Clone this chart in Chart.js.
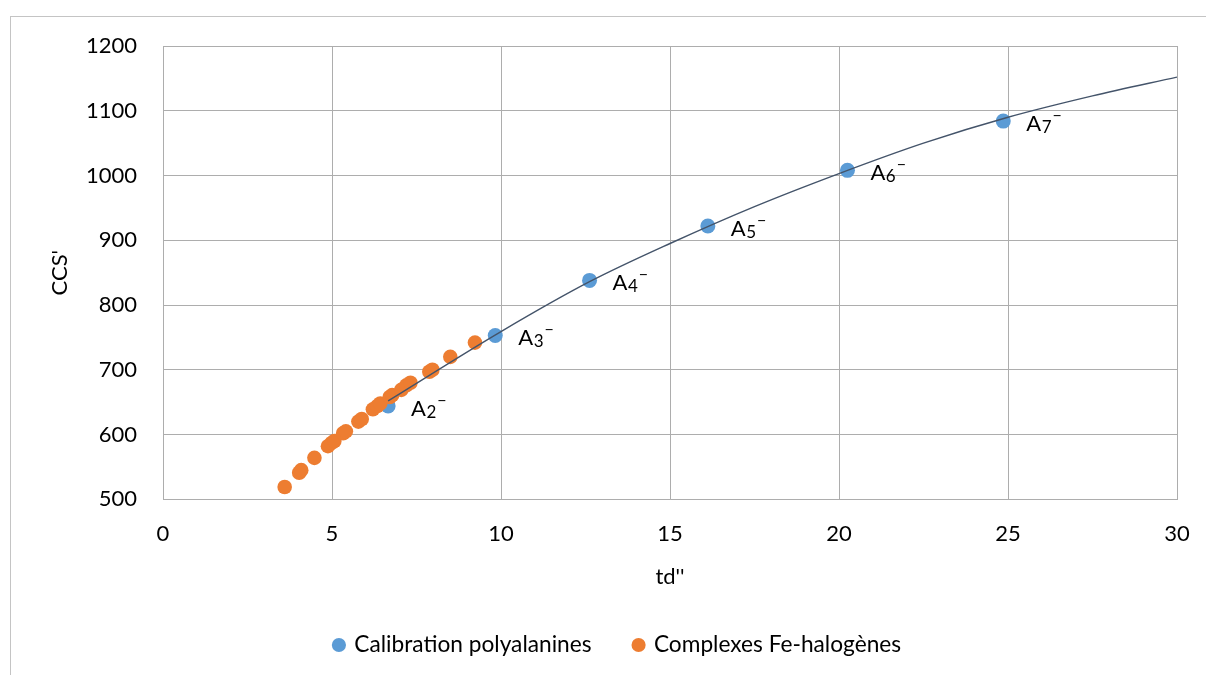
<!DOCTYPE html>
<html>
<head>
<meta charset="utf-8">
<script src="https://cdn.jsdelivr.net/npm/chart.js@4"></script>
<style>
  html, body { margin: 0; padding: 0; background: #ffffff; }
  canvas { display: block; }
</style>
</head>
<body>
<canvas id="chart" width="1206" height="675"></canvas>
<script>
// Polyalanine calibration ions A2- .. A7-
const calibTd  = [6.66, 9.83, 12.62, 16.12, 20.25, 24.86];
const calibCcs = [644, 753, 838, 922, 1008, 1084];
const calibIons = [2, 3, 4, 5, 6, 7];

// Fe-halogen complexes
const complexTd  = [3.60, 4.03, 4.09, 4.48, 4.88, 4.99, 5.07, 5.33, 5.41, 5.78, 5.88, 6.21,
                    6.34, 6.43, 6.71, 6.78, 7.05, 7.20, 7.32, 7.88, 7.97, 8.50, 9.23];
const complexCcs = [519, 541, 545, 564, 582, 587, 590, 602, 605, 620, 624, 639,
                    644, 648, 658, 661, 669, 676, 680, 697, 700, 720, 742];

// Calibration curve
const fitTd  = [6.66, 10, 12.62, 15, 17.5, 20, 22.5, 25, 27.5, 30];
const fitCcs = [652, 759, 836, 895, 952, 1003, 1050, 1090, 1123, 1152];

// Axis settings
const xMin = 0, xMax = 30, xStep = 5;
const yMin = 500, yMax = 1200, yStep = 100;

const toPoints = (xs, ys) => xs.map((x, i) => ({ x: x, y: ys[i] }));

const FONT = 'Lato';
const GRID = '#ADADAD';

Chart.defaults.font.family = FONT;
Chart.defaults.color = '#000000';

// Outer chart frame and white background
const framePlugin = {
  id: 'frame',
  beforeDraw(chart) {
    const ctx = chart.ctx;
    ctx.save();
    ctx.fillStyle = '#ffffff';
    ctx.fillRect(0, 0, chart.width, chart.height);
    ctx.strokeStyle = '#C4C4C4';
    ctx.lineWidth = 1;
    ctx.strokeRect(10.5, 16.5, chart.width + 20, chart.height + 20);
    ctx.restore();
  }
};

// Ion labels "A n -" next to calibration points
const ionLabelPlugin = {
  id: 'ionLabels',
  afterDatasetsDraw(chart) {
    const meta = chart.getDatasetMeta(1);
    const ctx = chart.ctx;
    ctx.save();
    ctx.fillStyle = '#000000';
    ctx.textAlign = 'left';
    ctx.textBaseline = 'alphabetic';
    meta.data.forEach((pt, i) => {
      const x = pt.x + 23;
      const base = pt.y + 9.5;
      ctx.font = '22px ' + FONT;
      ctx.fillText('A', x, base);
      const wA = ctx.measureText('A').width;
      const sub = String(calibIons[i]);
      ctx.font = '17px ' + FONT;
      ctx.fillText(sub, x + wA + 0.5, base + 2.5);
      const wS = ctx.measureText(sub).width;
      ctx.font = '16px ' + FONT;
      ctx.fillText('\u2212', x + wA + wS + 1.5, base - 10);
    });
    ctx.restore();
  }
};

const plainTick = (v) => String(v);

new Chart(document.getElementById('chart'), {
  type: 'scatter',
  data: {
    datasets: [
      {
        label: 'Courbe',
        data: toPoints(fitTd, fitCcs),
        showLine: true,
        borderColor: '#44546A',
        borderWidth: 1.4,
        pointRadius: 0,
        cubicInterpolationMode: 'monotone',
        order: 0
      },
      {
        label: 'Calibration polyalanines',
        data: toPoints(calibTd, calibCcs),
        backgroundColor: '#5B9BD5',
        borderColor: '#5B9BD5',
        borderWidth: 0,
        pointRadius: 7.5,
        pointStyle: 'circle',
        order: 2
      },
      {
        label: 'Complexes Fe-halogènes',
        data: toPoints(complexTd, complexCcs),
        backgroundColor: '#ED7D31',
        borderColor: '#ED7D31',
        borderWidth: 0,
        pointRadius: 7.3,
        pointStyle: 'circle',
        order: 1
      }
    ]
  },
  options: {
    responsive: false,
    animation: false,
    devicePixelRatio: 1,
    layout: { padding: { left: 59, right: 29, top: 46, bottom: 8.65 } },
    plugins: {
      tooltip: { enabled: false },
      legend: {
        position: 'bottom',
        labels: {
          usePointStyle: true,
          pointStyle: 'circle',
          boxWidth: 8,
          boxHeight: 10,
          padding: 43,
          color: '#000000',
          font: { size: 22.7, family: FONT },
          filter: (item) => item.datasetIndex !== 0,
          sort: (a, b) => a.datasetIndex - b.datasetIndex
        }
      }
    },
    scales: {
      x: {
        type: 'linear',
        min: xMin,
        max: xMax,
        afterFit: (scale) => { scale.height = 91.35; },
        ticks: { stepSize: xStep, padding: 0, font: { size: 22 }, color: '#000000', callback: plainTick },
        grid: { color: GRID, lineWidth: 1, drawTicks: true, tickLength: 21, tickColor: 'rgba(0,0,0,0)' },
        border: { display: true, color: GRID, width: 1 },
        title: { display: true, text: "td''", font: { size: 22 }, color: '#000000', padding: { top: 0, bottom: 0.5 } }
      },
      y: {
        type: 'linear',
        min: yMin,
        max: yMax,
        afterFit: (scale) => { scale.width = 104; },
        ticks: { stepSize: yStep, padding: 0, font: { size: 22 }, color: '#000000', callback: plainTick },
        grid: { color: GRID, lineWidth: 1, drawTicks: true, tickLength: 26, tickColor: 'rgba(0,0,0,0)' },
        border: { display: true, color: GRID, width: 1 },
        title: { display: true, text: "CCS'", font: { size: 22 }, color: '#000000', padding: { top: -12, bottom: 0 } }
      }
    }
  },
  plugins: [framePlugin, ionLabelPlugin]
});
</script>
</body>
</html>
